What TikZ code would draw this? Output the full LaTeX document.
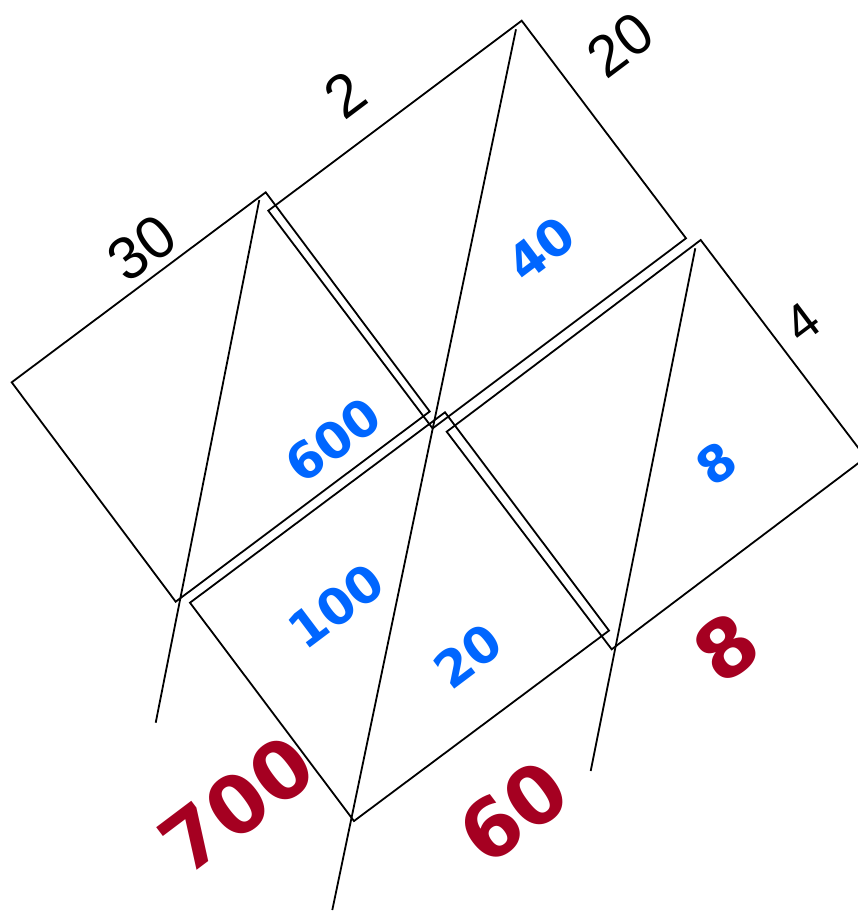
\documentclass[tikz,border=0pt]{standalone}
\usepackage{fontspec}
\setmainfont{Liberation Sans}
\newfontfamily\dvs{DejaVu Sans}
\definecolor{blueC}{RGB}{0,102,255}
\definecolor{redC}{RGB}{165,0,33}
\tikzset{
  cell/.style={draw=black, line width=1.8pt, line join=miter},
  diagline/.style={draw=black, line width=1.8pt},
  blab/.style={font=\fontsize{#1}{#1}\selectfont, rotate=37, inner sep=0pt},
  bluelab/.style={text=blueC, font=\dvs\bfseries\fontsize{50}{50}\selectfont, rotate=37, inner sep=0pt},
  redlab/.style={text=redC, font=\dvs\bfseries\fontsize{#1}{#1}\selectfont, rotate=37, inner sep=0pt},
}
\begin{document}
\begin{tikzpicture}[x=1pt,y=-1pt]
\useasboundingbox (0,0) rectangle (858,911);
\clip (0,0) rectangle (858,911);
% top-left cell
\coordinate (TLt) at (265.7,192.3);
\coordinate (TLl) at (11.7,382.3);
\coordinate (TLb) at (175.7,601.7);
\coordinate (TLr) at (429.7,411.5);
% top-right cell
\coordinate (TRt) at (521.7,20.7);
\coordinate (TRl) at (268.3,210.7);
\coordinate (TRb) at (432.6,428.4);
\coordinate (TRr) at (686,238.3);
% bottom-right cell
\coordinate (BRt) at (700.7,240);
\coordinate (BRl) at (446.7,431.7);
\coordinate (BRb) at (611.7,649.3);
\coordinate (BRr) at (865.7,457.6);
% bottom-left cell
\coordinate (BLt) at (445,412.3);
\coordinate (BLl) at (190,602.7);
\coordinate (BLb) at (354,821);
\coordinate (BLr) at (609,630.6);

\path[cell] (TLt) -- (TLl) -- (TLb) -- (TLr) -- cycle;
\path[cell] (TRt) -- (TRl) -- (TRb) -- (TRr) -- cycle;
\path[cell] (BRt) -- (BRl) -- (BRb) -- (BRr) -- cycle;
\path[cell] (BLt) -- (BLl) -- (BLb) -- (BLr) -- cycle;

% diagonal lines
\coordinate (L1a) at (259.3,200);
\coordinate (L1b) at (155.7,722.7);
\coordinate (L2a) at (516,29.3);
\coordinate (L2b) at (332.3,910);
\coordinate (L3a) at (695.3,248.3);
\coordinate (L3b) at (590.7,771);
\path[diagline] (L1a) -- (L1b);
\path[diagline] (L2a) -- (L2b);
\path[diagline] (L3a) -- (L3b);

% factor labels
\node[blab=60] (f30) at (142,248) {30};
\node[blab=60] (f2) at (345,95) {2};
\node[blab=58] (f20) at (620,45) {20};
\node[blab=52] (f4) at (802,323) {4};

% partial products
\node[bluelab] (p40) at (541,249) {40};
\node[bluelab] (p600) at (333,440) {600};
\node[bluelab] (p8) at (716,463) {8};
\node[bluelab] (p100) at (336,606) {100};
\node[bluelab] (p20) at (468,656) {20};

% sums
\node[redlab=80] (s700) at (237,804) {700};
\node[redlab=80] (s60) at (513,812) {60};
\node[redlab=80] (s8) at (726,647) {8};
\end{tikzpicture}
\end{document}
